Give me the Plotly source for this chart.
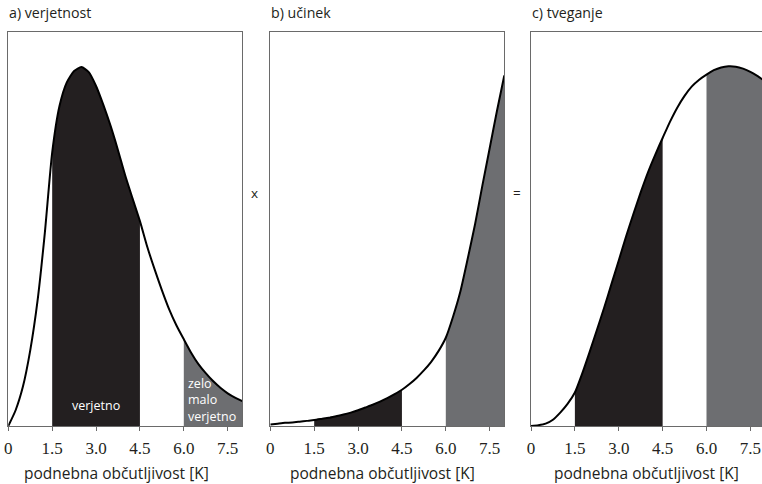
import plotly.graph_objects as go

# ---- data ----
x_k = [0, 0.25, 0.5, 0.75, 1.0, 1.25, 1.5, 1.75, 2.0, 2.25, 2.5, 2.75, 3.0, 3.25, 3.5, 3.75,
       4.0, 4.25, 4.5, 4.75, 5.0, 5.25, 5.5, 5.75, 6.0, 6.25, 6.5, 6.75, 7.0, 7.25, 7.5, 7.75, 8.0]
verjetnost = [0.0, 0.04, 0.10, 0.192, 0.318, 0.491, 0.694, 0.812, 0.872, 0.901, 0.911, 0.898,
              0.863, 0.815, 0.761, 0.700, 0.635, 0.577, 0.520, 0.455, 0.398, 0.345, 0.296, 0.255,
              0.220, 0.186, 0.157, 0.134, 0.114, 0.097, 0.083, 0.072, 0.063]
ucinek = [0.004, 0.006, 0.008, 0.009, 0.011, 0.013, 0.015, 0.018, 0.021, 0.025, 0.029, 0.034,
          0.040, 0.047, 0.054, 0.062, 0.071, 0.081, 0.092, 0.106, 0.122, 0.141, 0.163, 0.190,
          0.224, 0.278, 0.342, 0.425, 0.512, 0.610, 0.705, 0.800, 0.890]
tveganje = [0.0, 0.002, 0.006, 0.016, 0.034, 0.056, 0.085, 0.133, 0.187, 0.243, 0.300, 0.360,
            0.420, 0.481, 0.538, 0.593, 0.644, 0.689, 0.731, 0.772, 0.808, 0.838, 0.862, 0.879,
            0.892, 0.903, 0.910, 0.913, 0.912, 0.907, 0.899, 0.888, 0.875]

tick_vals = [0, 1.5, 3.0, 4.5, 6.0, 7.5]
tick_text = ["0", "1.5", "3.0", "4.5", "6.0", "7.5"]

likely_range = (1.5, 4.5)
unlikely_range = (6.0, 8.0)

panel_titles = ["a) verjetnost", "b) učinek", "c) tveganje"]
axis_title = "podnebna občutljivost [K]"

# ---- styling ----
W, H = 762, 484
MT, MB = 32, 58
DARK = "#231f20"
GRAY = "#6d6e71"
BOX = "#6a6a6a"
TXT = "#231f20"
SANS = "Open Sans, Noto Sans, sans-serif"
SERIF = "Liberation Serif, DejaVu Serif, serif"
SMOOTH = 0.6


def segment(xs, ys, lo, hi):
    sx, sy = [], []
    for xv, yv in zip(xs, ys):
        if lo - 1e-9 <= xv <= hi + 1e-9:
            sx.append(xv)
            sy.append(yv)
    return sx, sy


fig = go.Figure()
panels = [verjetnost, ucinek, tveganje]
for i, ys in enumerate(panels):
    xs = x_k
    xa = "x" if i == 0 else f"x{i+1}"
    ya = "y" if i == 0 else f"y{i+1}"
    for (lo, hi), col in [(likely_range, DARK), (unlikely_range, GRAY)]:
        sx, sy = segment(xs, ys, lo, hi)
        fig.add_trace(go.Scatter(x=sx, y=sy, mode="lines", fill="tozeroy", fillcolor=col,
                                 line=dict(width=0, color=col, shape="spline", smoothing=SMOOTH),
                                 xaxis=xa, yaxis=ya, hoverinfo="skip", showlegend=False))
    fig.add_trace(go.Scatter(x=xs, y=ys, mode="lines",
                             line=dict(width=2, color="black", shape="spline", smoothing=SMOOTH),
                             xaxis=xa, yaxis=ya, showlegend=False))

# plot-area pixel layout
left_px = [8.3, 270.3, 531.0]
width_px = 234.0
unit = width_px / 8.0
x_ranges = [[0, 8], [0, 8], [0, (W - left_px[2]) / unit]]
axis_title_px = [116, 383, 646.5]

axis_common = dict(tickvals=tick_vals, ticktext=tick_text, ticks="outside", ticklen=4,
                   tickcolor=BOX, tickwidth=1, showline=True, linecolor=BOX, linewidth=1,
                   showgrid=False, zeroline=False, automargin=False, ticklabelstandoff=3,
                   tickfont=dict(family=SERIF, size=17, color=TXT))

layout = dict(width=W, height=H, margin=dict(l=0, r=0, t=MT, b=MB, pad=0),
              plot_bgcolor="white", paper_bgcolor="white", showlegend=False)
for i in range(3):
    xk = "xaxis" if i == 0 else f"xaxis{i+1}"
    yk = "yaxis" if i == 0 else f"yaxis{i+1}"
    d0 = left_px[i] / W
    d1 = min(1.0, (left_px[i] + width_px) / W)
    ax = dict(axis_common)
    ax.update(domain=[d0, d1], range=x_ranges[i], mirror=True,
              anchor="y" if i == 0 else f"y{i+1}")
    layout[xk] = ax
    layout[yk] = dict(range=[0, 1], domain=[0, 1], showticklabels=False, ticks="",
                      showgrid=False, zeroline=False, showline=True, linecolor=BOX,
                      linewidth=1, mirror=(i < 2), automargin=False,
                      anchor="x" if i == 0 else f"x{i+1}")
fig.update_layout(**layout)

plot_h = H - MT - MB
annotations = []
for i, t in enumerate(panel_titles):
    annotations.append(dict(text=t, xref="paper", yref="paper", x=(left_px[i] - 1.0) / W,
                            y=(H - MB - 12.5) / plot_h, xanchor="left", yanchor="middle",
                            showarrow=False, font=dict(family=SANS, size=14.2, color=TXT)))
    annotations.append(dict(text=axis_title, xref="paper", yref="paper",
                            x=axis_title_px[i] / W, y=(H - MB - 473) / plot_h,
                            xanchor="center", yanchor="middle", showarrow=False,
                            font=dict(family=SANS, size=15.5, color=TXT)))
for sym, px in [("x", 254), ("=", 517)]:
    annotations.append(dict(text=sym, xref="paper", yref="paper", x=px / W,
                            y=(H - MB - 193) / plot_h, xanchor="center", yanchor="middle",
                            showarrow=False, font=dict(family=SANS, size=13.5, color=TXT)))
annotations.append(dict(text="verjetno", xref="x", yref="y", x=3.0, y=0.053,
                        xanchor="center", yanchor="middle", showarrow=False,
                        font=dict(family=SANS, size=12.5, color="white")))
annotations.append(dict(text="zelo<br>malo<br>verjetno", xref="x", yref="y", x=6.06, y=0.066,
                        xanchor="left", yanchor="middle", align="left", showarrow=False,
                        font=dict(family=SANS, size=12.5, color="white")))
fig.update_layout(annotations=annotations)

fig.write_html("out.html", config={"displayModeBar": False},
               post_script="document.body.style.margin='0px';")
